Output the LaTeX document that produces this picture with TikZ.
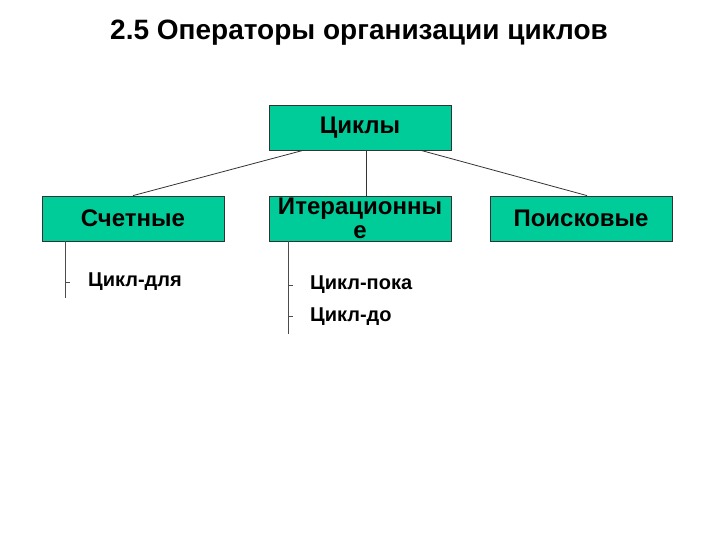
\documentclass[tikz,border=0pt]{standalone}
\usepackage{fontspec}
\setmainfont{Liberation Sans}
\definecolor{boxgreen}{RGB}{0,204,153}
\tikzset{
  box/.style={draw=black!80, fill=boxgreen, line width=0.8pt, minimum width=182pt, minimum height=45pt, inner sep=0pt, font=\bfseries\fontsize{24}{24}\selectfont, align=center},
  item/.style={anchor=west, inner sep=0pt, font=\bfseries\fontsize{20}{22}\selectfont},
  conn/.style={draw=black!80, line width=0.8pt},
  tick/.style={draw=black!70, line width=0.9pt}
}
\begin{document}
\begin{tikzpicture}[x=1pt,y=-1pt]
\useasboundingbox (0,0) rectangle (720,540);
\node[font=\bfseries\fontsize{28}{30}\selectfont] (title) at (359,33) {2.5 Операторы организации циклов};
\node[box] (top) at (360,127.5) {\raisebox{-2pt}{Циклы}};
\node[box] (cnt) at (133,218.5) {Счетные};
\node[box] (itr) at (360,218.5) {Итерационны\\е};
\node[box] (srch) at (581,218.5) {Поисковые};
\draw[conn] (top.south -| 303,0) -- (cnt.north -| 133,0);
\draw[conn] (top.south -| 366,0) -- (itr.north -| 366,0);
\draw[conn] (top.south -| 421,0) -- (srch.north -| 587,0);
% left list
\coordinate (lt) at (cnt.south -| 65,0);
\coordinate (lb) at (65,298);
\draw[tick] (lt) -- (lb);
\node[item] (fordo) at (88,282) {Цикл-для};
\coordinate (lk) at (65,282);
\draw[tick] (lk) -- ++(5,0);
% middle list
\coordinate (mt) at (itr.south -| 288,0);
\coordinate (mb) at (288,334);
\draw[tick] (mt) -- (mb);
\node[item] (whiledo) at (310,285) {Цикл-пока};
\node[item] (repeat) at (310,317) {Цикл-до};
\coordinate (mk1) at (288,285);
\coordinate (mk2) at (288,316);
\draw[tick] (mk1) -- ++(5,0);
\draw[tick] (mk2) -- ++(5,0);
\end{tikzpicture}
\end{document}
